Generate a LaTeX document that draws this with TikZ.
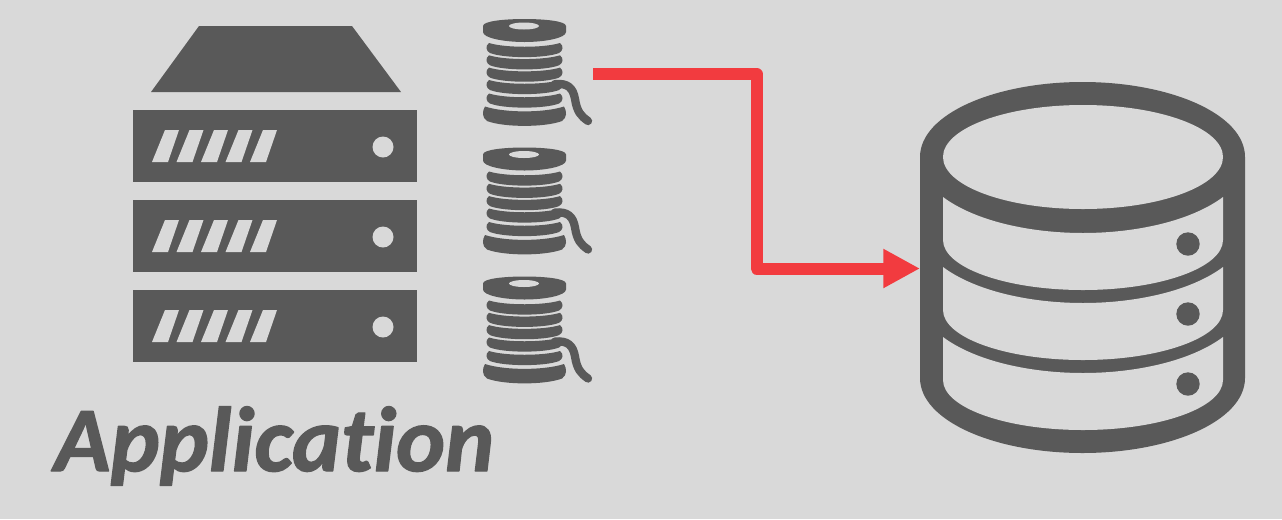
\documentclass[tikz,border=0pt]{standalone}
\usepackage{fontspec}
\setmainfont[Ligatures=NoCommon]{Carlito}
\usetikzlibrary{arrows.meta}
\definecolor{backgray}{HTML}{D9D9D9}
\definecolor{icongray}{HTML}{595959}
\definecolor{flowred}{HTML}{F23B3F}
\tikzset{
  icon/.style={fill=icongray, draw=none},
  hole/.style={fill=backgray, draw=none},
  flow/.style={draw=flowred, line width=9pt, -{Triangle[length=27.5pt,width=27.5pt,fill=flowred]}},
  thread/.style={draw=icongray, line width=6.2pt, line cap=round}
}
\begin{document}
\begin{tikzpicture}[x=0.75pt, y=-0.75pt, line join=round]
\fill[backgray] (0,0) rectangle (1282,519);
\useasboundingbox (0,0) rectangle (1282,519);
\fill[icon] (151,92)--(199,26)--(352,26)--(401,92)--cycle;
\foreach \y in {0,90,180} {
  \fill[icon] (133,110+\y) rectangle (417,182+\y);
  \foreach \x in {0,1,2,3,4}
    \fill[hole] (152+24.5*\x,162+\y)--(168+24.5*\x,162+\y)--(179+24.5*\x,130+\y)--(165+24.5*\x,130+\y)--cycle;
  \fill[hole] (383,147+\y) circle(10.5);
}
\foreach \y in {0,128.5,257.5} {
  \fill[icon] (483,26+\y) .. controls (483,21+\y) and (505,19+\y) .. (524.5,19+\y) .. controls (544,19+\y) and (566,21+\y) .. (566,26+\y) -- (566,32+\y) .. controls (566,38+\y) and (545,42+\y) .. (524.5,42+\y) .. controls (504,42+\y) and (483,38+\y) .. (483,32+\y) -- cycle;
  \fill[hole] (524,26+\y) ellipse[x radius=15, y radius=3.5];
  \foreach \z in {0,12.3,24.6,37,50.5} {
    \fill[icon] (489,43+\y+\z) .. controls (505,48+\y+\z) and (544,48+\y+\z) .. (560,43+\y+\z) .. controls (564,46+\y+\z) and (563,51+\y+\z) .. (559,53+\y+\z) .. controls (545,58.5+\y+\z) and (504,58.5+\y+\z) .. (490,53+\y+\z) .. controls (486,51+\y+\z) and (485,46+\y+\z) .. (489,43+\y+\z) -- cycle;
  }
  \fill[icon] (485,106.5+\y) .. controls (505,113+\y) and (544,113+\y) .. (564,106.5+\y) .. controls (567,111+\y) and (567,118+\y) .. (562,121+\y) .. controls (545,127.5+\y) and (504,127.5+\y) .. (487,121+\y) .. controls (482,118+\y) and (482,111+\y) .. (485,106.5+\y) -- cycle;
  \draw[thread] (555,84+\y) .. controls (568,83+\y) and (573,88+\y) .. (575,99+\y) .. controls (577,112+\y) and (581,116+\y) .. (588,121+\y);
}
\fill[icon] (920,157) .. controls (920,114) and (995,82) .. (1082.5,82) .. controls (1170,82) and (1245,114) .. (1245,157) -- (1245,378) .. controls (1245,421) and (1170,453) .. (1082.5,453) .. controls (995,453) and (920,421) .. (920,378) -- cycle;
\fill[hole] (1083,157) ellipse[x radius=140, y radius=52];
\foreach \y in {0,70,140} {
  \fill[hole] (943,197+\y) .. controls (975,221+\y) and (1030,233+\y) .. (1083,233+\y) .. controls (1136,233+\y) and (1191,221+\y) .. (1223,197+\y) -- (1223,240+\y) arc[start angle=0, end angle=180, x radius=140, y radius=50] -- cycle;
  \fill[icon] (1188,244+\y) circle(11.7);
}
\coordinate (spoolout) at (593,74);
\coordinate (bend) at (756.5,170);
\coordinate (dbin) at (920,268.5);
\draw[flow] (spoolout) -| (bend) |- (dbin);
\node[text=icongray, font=\fontsize{69}{69}\selectfont\bfseries\itshape\addfontfeature{FakeBold=1.5}, anchor=base west, inner sep=0pt, xscale=1.01] (applabel) at (54,471) {Application};
\end{tikzpicture}
\end{document}
